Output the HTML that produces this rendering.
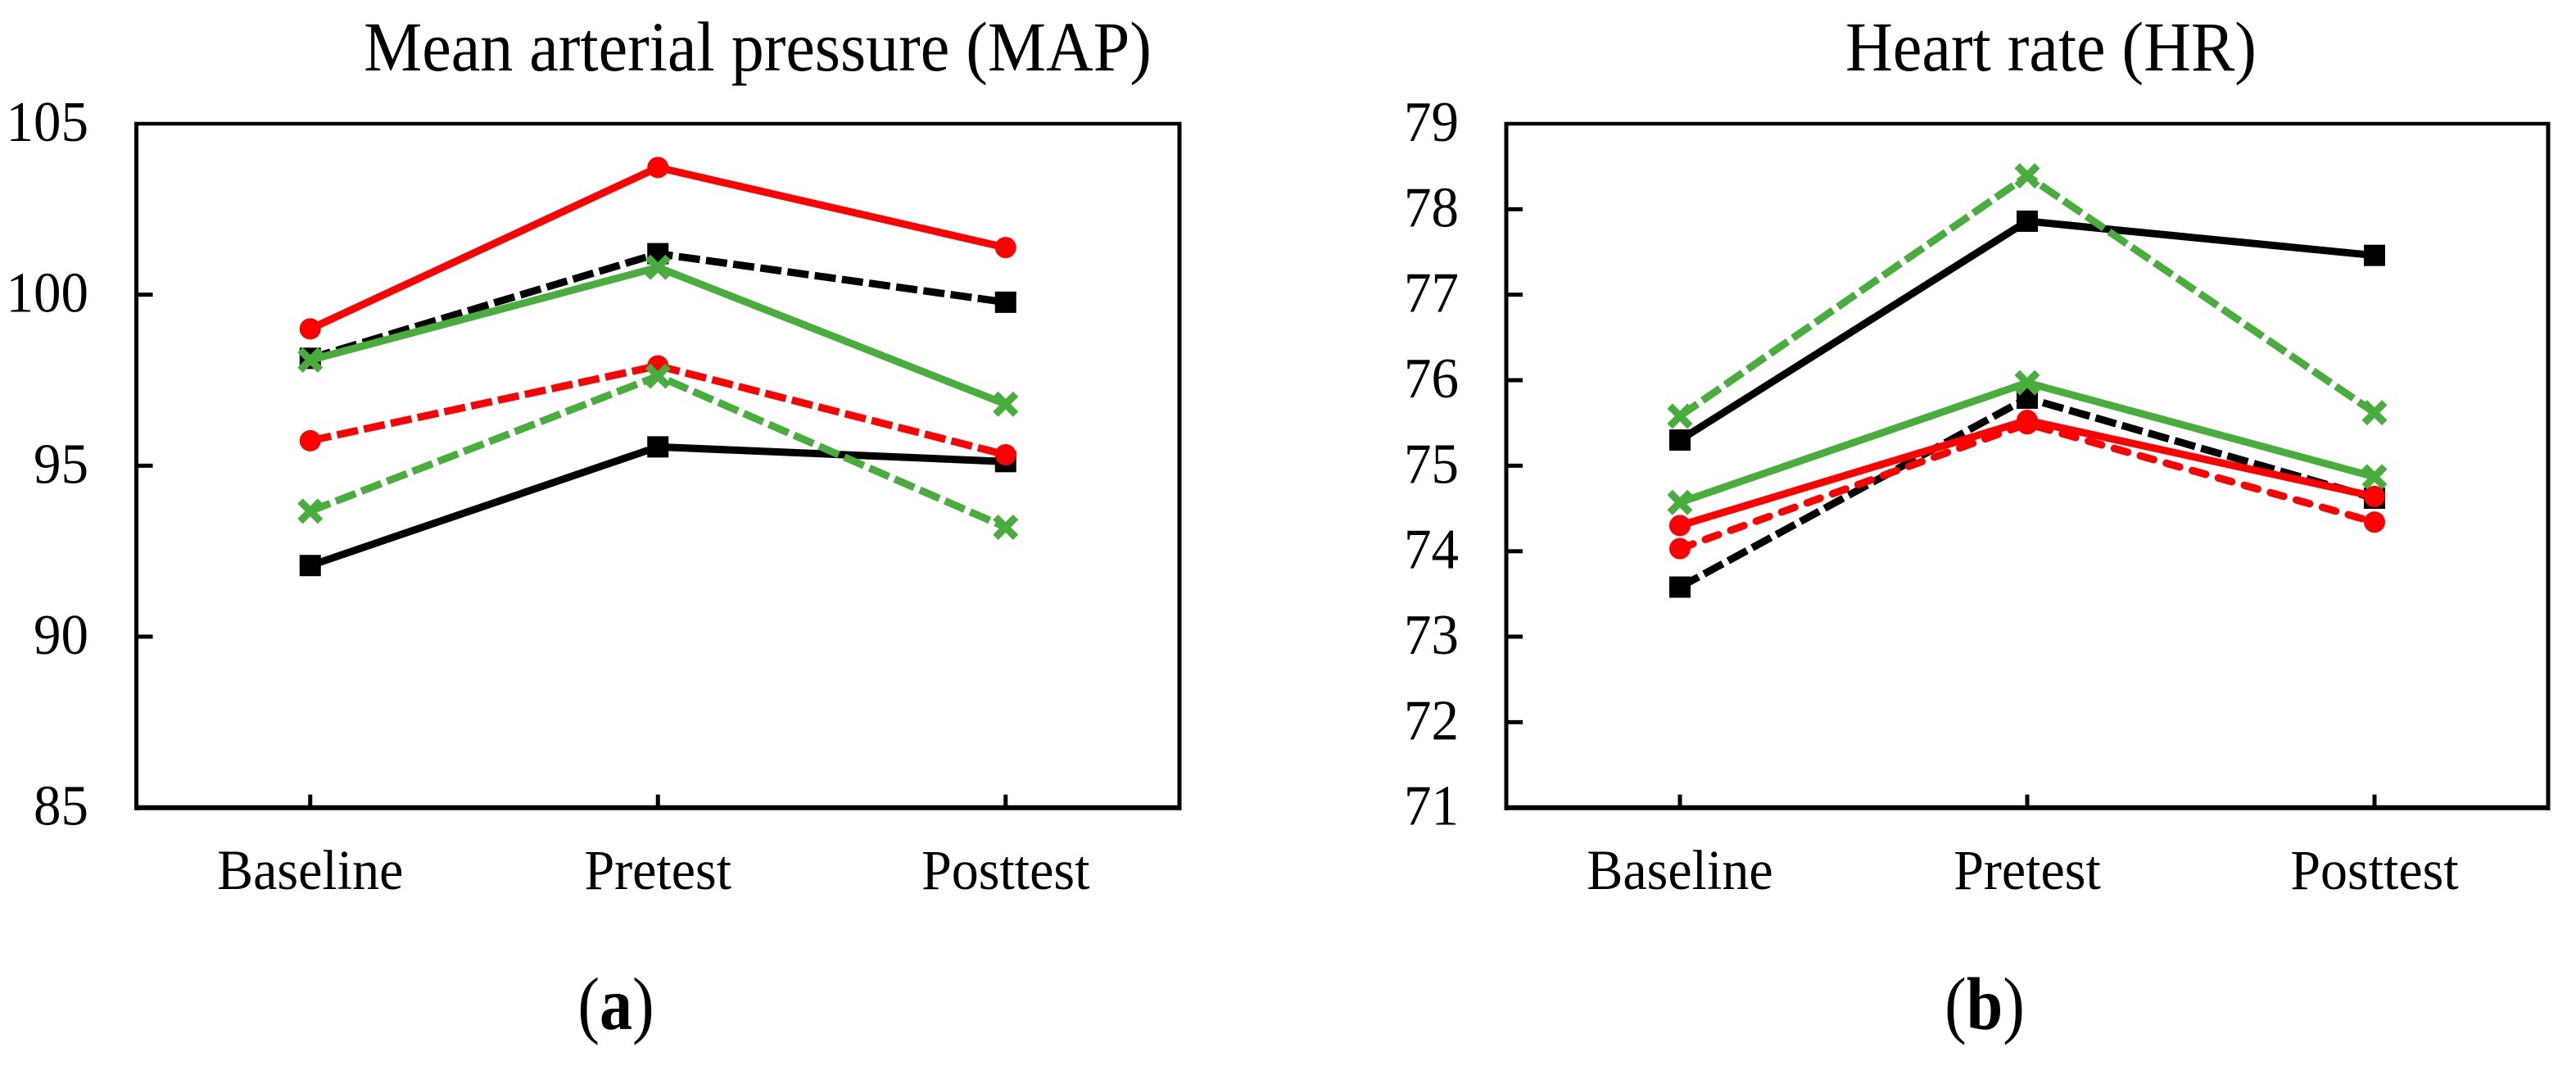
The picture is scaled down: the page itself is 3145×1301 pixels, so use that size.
<!DOCTYPE html>
<html lang="en">
<head>
<meta charset="utf-8">
<title>MAP and HR charts</title>
<style>
html,body{margin:0;padding:0;background:#fff;}
svg{display:block;}
text{font-family:"Liberation Serif",serif;fill:#000;}
</style>
</head>
<body>
<svg id="figure" width="3145" height="1301" viewBox="0 0 3145 1301" xmlns="http://www.w3.org/2000/svg">
  <rect x="0" y="0" width="3145" height="1301" fill="#fff"/>
  <text transform="translate(925 86) scale(1 1.07)" font-size="80" text-anchor="middle">Mean arterial pressure (MAP)</text>
  <text transform="translate(2504 86) scale(1 1.07)" font-size="80" text-anchor="middle">Heart rate (HR)</text>
  <text transform="translate(752 1256) scale(1 1.14)" font-size="80" text-anchor="middle">(<tspan font-weight="bold">a</tspan>)</text>
  <text transform="translate(2423 1256) scale(1 1.14)" font-size="80" text-anchor="middle">(<tspan font-weight="bold">b</tspan>)</text>
  <g id="panel-a"></g>
  <g id="panel-b"></g>
</svg>
<script>
const categories = ["Baseline", "Pretest", "Posttest"];

const mapTicks = [85, 90, 95, 100, 105];
const mapBlackSolid = [92.08, 95.55, 95.12];
const mapBlackDashed = [98.14, 101.2, 99.78];
const mapRedDashed = [95.73, 97.92, 95.32];
const mapGreenDashed = [93.67, 97.62, 93.2];
const mapGreenSolid = [98.09, 100.8, 96.8];
const mapRedSolid = [99.0, 103.72, 101.38];

const hrTicks = [71, 72, 73, 74, 75, 76, 77, 78, 79];
const hrBlackSolid = [75.3, 77.86, 77.46];
const hrBlackDashed = [73.58, 75.79, 74.62];
const hrRedDashed = [74.03, 75.49, 74.34];
const hrGreenDashed = [75.58, 78.39, 75.62];
const hrGreenSolid = [74.57, 75.97, 74.87];
const hrRedSolid = [74.3, 75.53, 74.64];

const NS = "http://www.w3.org/2000/svg";
const RED = "#ff0000", GREEN = "#47ae3c", BLACK = "#000000";

function make(tag, attrs, parent) {
  const el = document.createElementNS(NS, tag);
  for (const k in attrs) el.setAttribute(k, attrs[k]);
  parent.appendChild(el);
  return el;
}

function drawMarker(kind, cx, cy, color, parent, name) {
  let m;
  if (kind === "square") {
    m = make("rect", { x: cx - 13, y: cy - 13, width: 26, height: 26, fill: color }, parent);
  } else if (kind === "circle") {
    m = make("circle", { cx: cx, cy: cy, r: 13, fill: color }, parent);
  } else {
    const s = 12.3;
    m = make("path", {
      d: "M" + (cx - s) + " " + (cy - s) + "L" + (cx + s) + " " + (cy + s) +
         "M" + (cx - s) + " " + (cy + s) + "L" + (cx + s) + " " + (cy - s),
      stroke: color, "stroke-width": 9, fill: "none"
    }, parent);
  }
  
  
}

function drawPanel(cfg) {
  const g = document.getElementById(cfg.id);
  const ticks = cfg.ticks;
  const yMin = ticks[0], yMax = ticks[ticks.length - 1];
  const xScale = i => cfg.left + (cfg.right - cfg.left) * (i + 0.5) / categories.length;
  const yScale = v => cfg.bottom + (cfg.top - cfg.bottom) * (v - yMin) / (yMax - yMin);

  const frame = [
    ["left-axis", cfg.left, cfg.top - 2, cfg.left, cfg.bottom + 3, 5],
    ["right-axis", cfg.right, cfg.top - 2, cfg.right, cfg.bottom + 3, 5],
    ["top-border", cfg.left - 2.5, cfg.top, cfg.right + 2.5, cfg.top, 4.5],
    ["bottom-axis", cfg.left - 2.5, cfg.bottom, cfg.right + 2.5, cfg.bottom, 6]
  ];
  frame.forEach(f => {
    const l = make("line", { x1: f[1], y1: f[2], x2: f[3], y2: f[4], stroke: "#000", "stroke-width": f[5] }, g);
    
    
  });

  ticks.forEach(t => {
    const y = yScale(t);
    if (t !== yMin && t !== yMax) {
      const l = make("line", { x1: cfg.left, y1: y, x2: cfg.left + 20, y2: y, stroke: "#000", "stroke-width": 5 }, g);
      
      
    }
    const tx = make("text", { transform: "translate(" + cfg.labelRight + " " + (y + 21) + ") scale(1 1.04)", "font-size": 67, "text-anchor": "end" }, g);
    tx.textContent = String(t);
    
    
  });

  categories.forEach((c, i) => {
    const x = xScale(i);
    const l = make("line", { x1: x, y1: cfg.bottom, x2: x, y2: cfg.bottom - 16, stroke: "#000", "stroke-width": 5 }, g);
    
    
    const tx = make("text", { transform: "translate(" + x + " 1085) scale(1 1.04)", "font-size": 66, "text-anchor": "middle" }, g);
    tx.textContent = c;
    
    
  });

  cfg.series.forEach(s => {
    const sg = make("g", {}, g);
    
    
    const pts = s.values.map((v, i) => xScale(i) + "," + yScale(v)).join(" ");
    const attrs = { points: pts, fill: "none", stroke: s.color, "stroke-width": s.width, "stroke-linejoin": "round" };
    if (s.dash) attrs["stroke-dasharray"] = s.dash;
    if (s.cap) attrs["stroke-linecap"] = s.cap;
    const line = make("polyline", attrs, sg);
    
    
    s.values.forEach((v, i) => {
      drawMarker(s.marker, xScale(i), yScale(v), s.color, sg, s.name + '-marker');
    });
  });
}

drawPanel({
  id: "panel-a", left: 166.5, right: 1440, top: 151, bottom: 985.7, labelRight: 108, ticks: mapTicks,
  series: [
    { name: "map-black-solid", values: mapBlackSolid, color: BLACK, width: 9, marker: "square" },
    { name: "map-black-dashed", values: mapBlackDashed, color: BLACK, width: 9, dash: "26 7.5", marker: "square" },
    { name: "map-red-dashed", values: mapRedDashed, color: RED, width: 9, dash: "26 7.5", marker: "circle" },
    { name: "map-green-dashed", values: mapGreenDashed, color: GREEN, width: 9, dash: "26 7.5", marker: "x" },
    { name: "map-green-solid", values: mapGreenSolid, color: GREEN, width: 9, marker: "x" },
    { name: "map-red-solid", values: mapRedSolid, color: RED, width: 9, marker: "circle" }
  ]
});

drawPanel({
  id: "panel-b", left: 1839, right: 3111, top: 151, bottom: 985.7, labelRight: 1781, ticks: hrTicks,
  series: [
    { name: "hr-black-solid", values: hrBlackSolid, color: BLACK, width: 9, marker: "square" },
    { name: "hr-black-dashed", values: hrBlackDashed, color: BLACK, width: 9, dash: "26 7.5", marker: "square" },
    { name: "hr-red-dashed", values: hrRedDashed, color: RED, width: 9, dash: "17 16", cap: "round", marker: "circle" },
    { name: "hr-green-dashed", values: hrGreenDashed, color: GREEN, width: 9, dash: "26 7.5", marker: "x" },
    { name: "hr-green-solid", values: hrGreenSolid, color: GREEN, width: 9, marker: "x" },
    { name: "hr-red-solid", values: hrRedSolid, color: RED, width: 9, marker: "circle" }
  ]
});
</script>
</body>
</html>
